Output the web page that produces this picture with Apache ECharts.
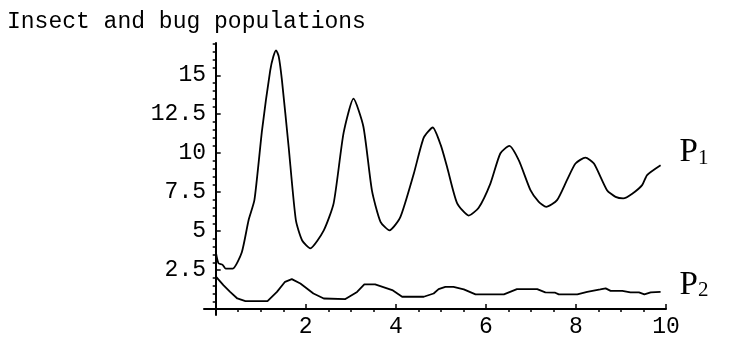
<!DOCTYPE html>
<html>
<head>
<meta charset="utf-8">
<script src="https://cdn.jsdelivr.net/npm/echarts@6/dist/echarts.min.js"></script>
<style>
  html, body { margin: 0; padding: 0; background: #fff; }
  #chart { width: 753px; height: 337px; }
</style>
</head>
<body>
<div id="chart"></div>
<script>
// insect population P1
var p1X = [0, 0.06, 0.15, 0.22, 0.38, 0.58, 0.73, 0.86, 1.03, 1.21, 1.28, 1.34, 1.4, 1.47, 1.62,
  1.78, 1.92, 2.1, 2.4, 2.62, 2.84, 3.06, 3.28, 3.47, 3.66, 3.86, 4.1, 4.4, 4.62, 4.82,
  5.0, 5.14, 5.36, 5.62, 5.84, 6.1, 6.32, 6.52, 6.73, 6.99, 7.17, 7.34, 7.58, 7.8, 7.99,
  8.21, 8.4, 8.69, 8.88, 9.05, 9.25, 9.47, 9.58, 9.88]
var p1Y = [3.7, 2.95, 2.85, 2.6, 2.6, 3.65, 5.7, 7.0, 11.5, 15.3, 16.2, 16.6, 16.2, 14.7, 10.4,
  5.7, 4.4, 3.9, 5.05, 6.8, 11.3, 13.5, 11.7, 7.6, 5.6, 5.05, 5.9, 8.7, 11.0, 11.65,
  10.5, 9.1, 6.8, 6.0, 6.5, 8.05, 9.98, 10.47, 9.55, 7.63, 6.9, 6.56, 6.99, 8.27, 9.34,
  9.72, 9.34, 7.63, 7.2, 7.1, 7.4, 7.95, 8.6, 9.23]
// bug population P2
var p2X = [0, 0.17, 0.32, 0.48, 0.66, 1.15, 1.36, 1.54, 1.69, 1.88, 2.17, 2.4, 2.88, 3.14, 3.3,
  3.54, 3.92, 4.14, 4.62, 4.84, 4.95, 5.1, 5.28, 5.51, 5.77, 6.4, 6.69, 7.14, 7.32, 7.54,
  7.62, 8.03, 8.25, 8.54, 8.66, 8.77, 9.03, 9.21, 9.4, 9.52, 9.66, 9.88]
var p2Y = [2.1, 1.54, 1.1, 0.68, 0.51, 0.51, 1.1, 1.75, 1.92, 1.64, 1.0, 0.68, 0.64, 1.1, 1.58,
  1.58, 1.22, 0.79, 0.79, 1.0, 1.28, 1.43, 1.43, 1.26, 0.94, 0.94, 1.28, 1.28, 1.07, 1.05,
  0.94, 0.94, 1.1, 1.26, 1.33, 1.17, 1.17, 1.07, 1.07, 0.94, 1.07, 1.1]

// ticks
var xMajor = [2, 4, 6, 8, 10]
var xMinor = [0.5, 1, 1.5, 2.5, 3, 3.5, 4.5, 5, 5.5, 6.5, 7, 7.5, 8.5, 9, 9.5]
var yMajor = [2.5, 5, 7.5, 10, 12.5, 15]
var yMinor = [0.5, 1, 1.5, 2, 3, 3.5, 4, 4.5, 5.5, 6, 6.5, 7, 8, 8.5, 9, 9.5,
  10.5, 11, 11.5, 12, 13, 13.5, 14, 14.5, 15.5, 16, 16.5, 17]

function zip(xs, ys) {
  return xs.map(function (x, i) { return [x, ys[i]] })
}

var mono = 'Liberation Mono'
var serif = 'Liberation Serif'
var black = '#000'

var chart = echarts.init(document.getElementById('chart'))

function xAx(major) {
  return {
    type: 'value',
    min: -0.26,
    max: 10,
    axisLine: { show: major, onZero: true, onZeroAxisIndex: 0, lineStyle: { color: black, width: 2 } },
    axisTick: {
      show: true, inside: true, length: major ? 5 : 3,
      customValues: major ? xMajor : xMinor,
      lineStyle: { color: black, width: 1.5 }
    },
    axisLabel: {
      show: major, customValues: xMajor, margin: 0,
      color: black, fontFamily: mono, fontSize: 23
    },
    splitLine: { show: false }
  }
}

function yAx(major) {
  return {
    type: 'value',
    min: -0.38,
    max: 17.07,
    axisLine: { show: major, onZero: true, onZeroAxisIndex: 0, lineStyle: { color: black, width: 2 } },
    axisTick: {
      show: true, inside: true, length: major ? 5 : 3,
      customValues: major ? yMajor : yMinor,
      lineStyle: { color: black, width: 1.5 }
    },
    axisLabel: {
      show: major, customValues: yMajor, margin: -2,
      color: black, fontFamily: mono, fontSize: 23
    },
    splitLine: { show: false }
  }
}

function lineSeries(name, data, sub, dy, smooth) {
  return {
    name: name,
    type: 'line',
    data: data,
    smooth: smooth,
    showSymbol: false,
    symbol: 'none',
    lineStyle: { color: black, width: 1.8 },
    endLabel: {
      show: true,
      formatter: '{p|P}{s|' + sub + '}',
      distance: 19,
      offset: [0, dy],
      color: black,
      rich: {
        p: { fontFamily: serif, fontSize: 33, lineHeight: 33, color: black, verticalAlign: 'bottom' },
        s: { fontFamily: serif, fontSize: 21, lineHeight: 23, color: black, verticalAlign: 'bottom' }
      }
    }
  }
}

chart.setOption({
  animation: false,
  backgroundColor: '#fff',
  title: {
    text: 'Insect and bug populations',
    left: 2,
    top: 5,
    textStyle: { fontFamily: mono, fontSize: 23, fontWeight: 'normal', color: black }
  },
  grid: {
    left: 204,
    right: 87,
    top: 43,
    bottom: 22,
    containLabel: false,
    outerBoundsMode: 'none'
  },
  xAxis: [xAx(true), xAx(false)],
  yAxis: [yAx(true), yAx(false)],
  series: [
    lineSeries('P1', zip(p1X, p1Y), 1, -13, 0.2),
    lineSeries('P2', zip(p2X, p2Y), 2, -7, false)
  ]
})
</script>
</body>
</html>
